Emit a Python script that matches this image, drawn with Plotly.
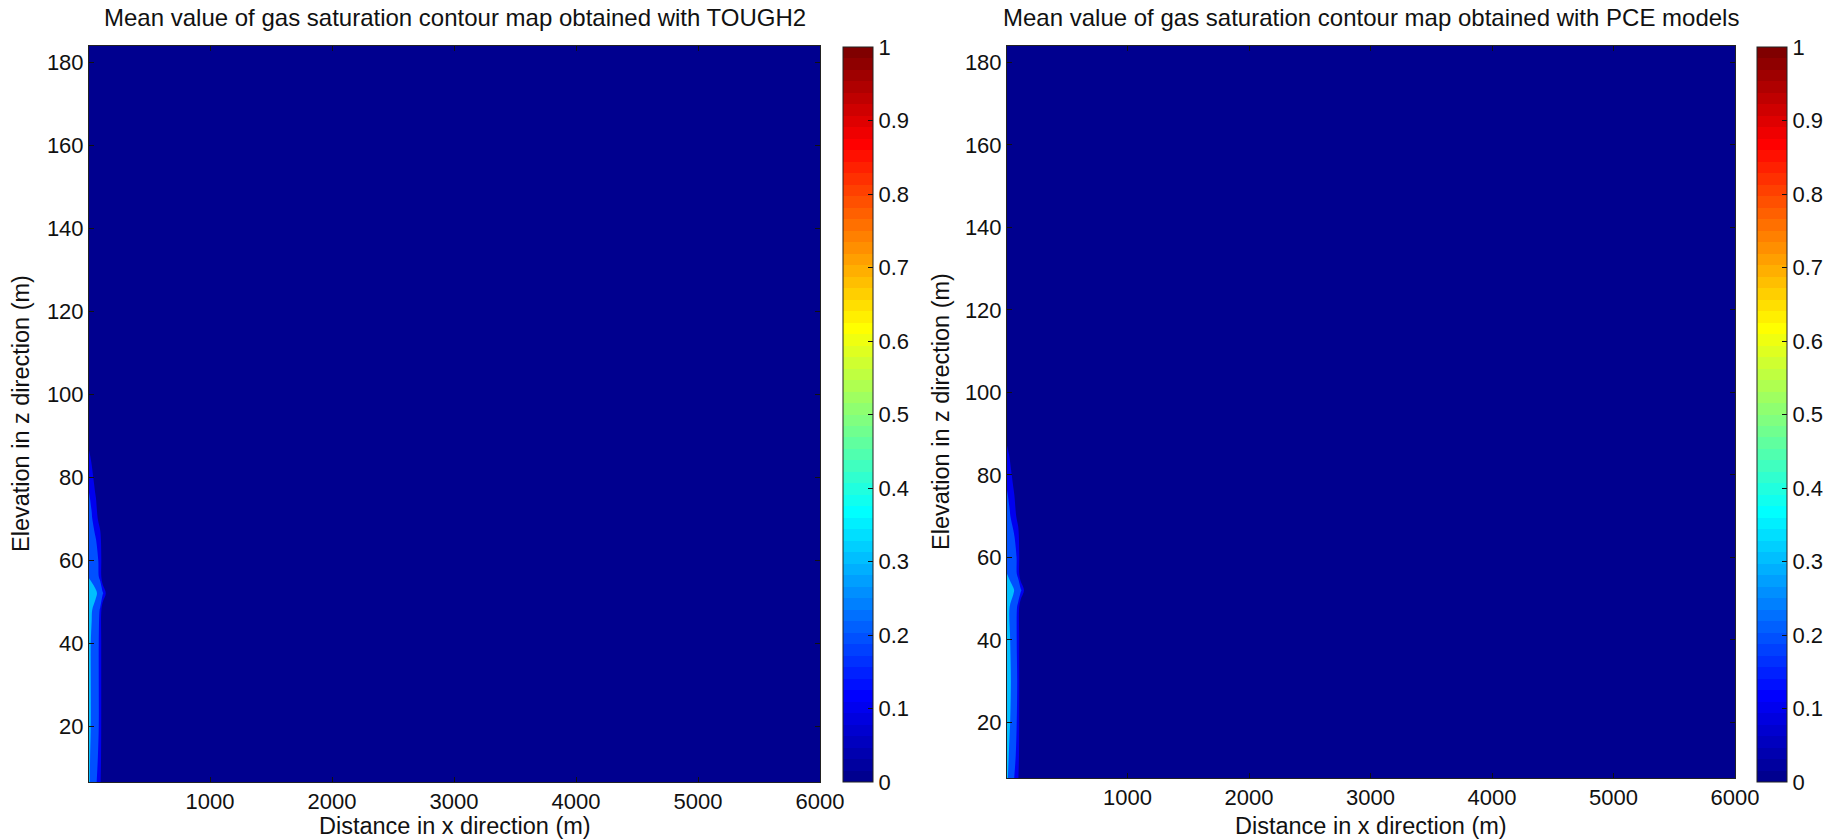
import plotly.graph_objects as go

# ---------------- data ----------------
x_dist = [8, 30, 60, 100, 120, 150, 250, 500, 1000, 2000, 3000, 4000, 5000, 6000]
y_elev = [6.5, 12, 20, 30, 40, 48, 52, 56, 60, 65, 70, 75, 80, 85, 90, 100, 120, 140, 160, 184]

# TOUGH2 mean gas saturation, columns near the injection well (one value per y_elev)
sg_tough_x8 = [0.31, 0.31, 0.32, 0.32, 0.32, 0.34, 0.40, 0.29, 0.27, 0.25, 0.22, 0.21, 0.17, 0.12, 0.05, 0.01, 0, 0, 0, 0]
sg_tough_x30 = [0.28, 0.285, 0.29, 0.29, 0.29, 0.305, 0.36, 0.27, 0.25, 0.23, 0.21, 0.18, 0.13, 0.08, 0.02, 0, 0, 0, 0, 0]
sg_tough_x60 = [0.23, 0.25, 0.27, 0.27, 0.27, 0.27, 0.32, 0.25, 0.23, 0.21, 0.15, 0.11, 0.06, 0.02, 0, 0, 0, 0, 0, 0]
sg_tough_x100 = [0.12, 0.15, 0.17, 0.17, 0.17, 0.19, 0.26, 0.18, 0.18, 0.14, 0.05, 0.03, 0, 0, 0, 0, 0, 0, 0, 0]
sg_tough_x120 = [0, 0, 0, 0, 0, 0, 0.22, 0, 0, 0, 0, 0, 0, 0, 0, 0, 0, 0, 0, 0]
sg_tough_x150 = [0, 0, 0, 0, 0, 0, 0.08, 0, 0, 0, 0, 0, 0, 0, 0, 0, 0, 0, 0, 0]

# PCE model mean gas saturation
sg_pce_x8 = [0.31, 0.32, 0.33, 0.33, 0.33, 0.34, 0.40, 0.30, 0.27, 0.25, 0.23, 0.21, 0.17, 0.13, 0.06, 0.01, 0, 0, 0, 0]
sg_pce_x30 = [0.28, 0.29, 0.305, 0.31, 0.305, 0.30, 0.35, 0.27, 0.25, 0.23, 0.21, 0.18, 0.14, 0.09, 0.03, 0, 0, 0, 0, 0]
sg_pce_x60 = [0.22, 0.25, 0.27, 0.28, 0.27, 0.27, 0.31, 0.25, 0.24, 0.22, 0.16, 0.12, 0.07, 0.02, 0, 0, 0, 0, 0, 0]
sg_pce_x100 = [0.11, 0.15, 0.17, 0.18, 0.17, 0.18, 0.25, 0.18, 0.18, 0.14, 0.06, 0.03, 0, 0, 0, 0, 0, 0, 0, 0]
sg_pce_x120 = [0, 0, 0, 0, 0, 0, 0.23, 0, 0, 0, 0, 0, 0, 0, 0, 0, 0, 0, 0, 0]
sg_pce_x150 = [0, 0, 0, 0, 0, 0, 0.09, 0, 0, 0, 0, 0, 0, 0, 0, 0, 0, 0, 0, 0]

# far field (x >= 250 m) is uniformly zero in both maps
sg_far_field = [0, 0, 0, 0, 0, 0, 0, 0, 0, 0, 0, 0, 0, 0, 0, 0, 0, 0, 0, 0]

contour_levels = [0.1, 0.2, 0.3, 0.4, 0.5, 0.6, 0.7, 0.8, 0.9]
x_ticks = [1000, 2000, 3000, 4000, 5000, 6000]
y_ticks = [20, 40, 60, 80, 100, 120, 140, 160, 180]
cb_ticks = [0, 0.1, 0.2, 0.3, 0.4, 0.5, 0.6, 0.7, 0.8, 0.9, 1]
cb_ticktext = ["0", "0.1", "0.2", "0.3", "0.4", "0.5", "0.6", "0.7", "0.8", "0.9", "1"]

titles = ["Mean value of gas saturation contour map obtained with TOUGH2",
          "Mean value of gas saturation contour map obtained with PCE models"]
x_label = "Distance in x direction (m)"
y_label = "Elevation in z direction (m)"


# ---------------- styling helpers ----------------
def jet(m=64):
    n = -(-m // 4)
    u = [i / n for i in range(1, n + 1)] + [1.0] * (n - 1) + [i / n for i in range(n, 0, -1)]
    g = [n // 2 + (n % 2) - (1 if m % 4 == 1 else 0) + k for k in range(1, len(u) + 1)]
    r = [gi + n for gi in g if gi + n <= m]
    b = [gi - n for gi in g if gi - n >= 1]
    g = [gi for gi in g if gi <= m]
    J = [[0.0, 0.0, 0.0] for _ in range(m)]
    for i, idx in enumerate(r):
        J[idx - 1][0] = u[i]
    for i, idx in enumerate(g):
        J[idx - 1][1] = u[i]
    for i, idx in enumerate(b):
        J[idx - 1][2] = u[len(u) - len(b) + i]
    return ["rgb(%d,%d,%d)" % tuple(round(c * 255) for c in row) for row in J]


JET = jet(64)


def jet_at(v):
    return JET[min(63, int(v * 64 + 1e-9))]


# contour band colours: band starting at level L gets jet(L) (MATLAB contourf behaviour)
band_starts = [0.0] + contour_levels
band_scale = [[k / (len(band_starts) - 1), jet_at(v)] for k, v in enumerate(band_starts)]

# stepped 64-colour scale for the colorbar
cb_scale = []
for i, c in enumerate(JET):
    cb_scale.append([i / 64, c])
    cb_scale.append([(i + 1) / 64, c])


def build_z(cols):
    allcols = cols + [sg_far_field] * (len(x_dist) - len(cols))
    return [[col[j] for col in allcols] for j in range(len(y_elev))]


z_tough = build_z([sg_tough_x8, sg_tough_x30, sg_tough_x60, sg_tough_x100, sg_tough_x120, sg_tough_x150])
z_pce = build_z([sg_pce_x8, sg_pce_x30, sg_pce_x60, sg_pce_x100, sg_pce_x120, sg_pce_x150])

W, H = 1844, 839
FONT = "Liberation Sans, Arial, sans-serif"


def px(xp):
    return xp / W


def py(yp):
    return 1 - yp / H


panels = [
    dict(z=z_tough, ax=(89, 820), ay=(46, 782), cb=(843, 47, 782), ylab_x=21),
    dict(z=z_pce, ax=(1007, 1735), ay=(46, 778), cb=(1757, 47, 782), ylab_x=941),
]

fig = go.Figure()
shapes = []
annotations = []

for i, p in enumerate(panels):
    sfx = "" if i == 0 else str(i + 1)
    fig.add_trace(go.Contour(
        x=x_dist, y=y_elev, z=p["z"],
        autocontour=False,
        contours=dict(start=contour_levels[0], end=contour_levels[-1], size=0.1,
                      coloring="fill", showlines=False),
        line=dict(width=0),
        colorscale=band_scale, showscale=False,
        xaxis="x" + sfx, yaxis="y" + sfx, hoverinfo="skip",
    ))
    cbx, cbtop, cbbot = p["cb"]
    fig.add_trace(go.Scatter(
        x=[3000], y=[100], mode="markers",
        marker=dict(size=1, opacity=0, color=[0.5], cmin=0, cmax=1, colorscale=cb_scale,
                    showscale=True,
                    colorbar=dict(x=px(cbx), xanchor="left", xpad=0, ypad=0,
                                  y=py(cbbot), yanchor="bottom",
                                  len=(cbbot - cbtop) / H, lenmode="fraction",
                                  thickness=30, thicknessmode="pixels",
                                  outlinewidth=1, outlinecolor="#222",
                                  tickmode="array", tickvals=cb_ticks, ticktext=cb_ticktext,
                                  ticks="inside", ticklen=5, tickcolor="#111",
                                  tickfont=dict(family=FONT, size=22, color="#111"))),
        xaxis="x" + sfx, yaxis="y" + sfx, showlegend=False, hoverinfo="skip",
    ))
    # left-side colorbar ticks (MATLAB draws them on both edges)
    for v in cb_ticks[1:-1]:
        yy = py(cbbot - v * (cbbot - cbtop))
        shapes.append(dict(type="line", xref="paper", yref="paper",
                           x0=px(cbx), x1=px(cbx + 5), y0=yy, y1=yy,
                           line=dict(color="#111", width=1)))

    ax_common = dict(showgrid=False, zeroline=False, showline=True, linecolor="#222", linewidth=1,
                     mirror="ticks", ticks="inside", ticklen=5, tickcolor="#111",
                     automargin=False,
                     tickfont=dict(family=FONT, size=22, color="#111"))
    fig.layout["xaxis" + sfx] = dict(domain=[px(p["ax"][0]), px(p["ax"][1])],
                                     range=[x_dist[0], x_dist[-1]], anchor="y" + sfx,
                                     tickmode="array", tickvals=x_ticks, **ax_common)
    fig.layout["yaxis" + sfx] = dict(domain=[py(p["ay"][1]), py(p["ay"][0])],
                                     range=[y_elev[0], y_elev[-1]], anchor="x" + sfx,
                                     tickmode="array", tickvals=y_ticks, **ax_common)

    cx = (p["ax"][0] + p["ax"][1]) / 2
    annotations.append(dict(text=titles[i], x=px(cx), y=py(18), xref="paper", yref="paper",
                            xanchor="center", yanchor="middle", showarrow=False,
                            font=dict(family=FONT, size=24, color="#111")))
    annotations.append(dict(text=x_label, x=px(cx), y=py(826), xref="paper", yref="paper",
                            xanchor="center", yanchor="middle", showarrow=False,
                            font=dict(family=FONT, size=23.5, color="#111")))
    annotations.append(dict(text=y_label, x=px(p["ylab_x"]), y=py((p["ay"][0] + p["ay"][1]) / 2),
                            xref="paper", yref="paper", textangle=-90,
                            xanchor="center", yanchor="middle", showarrow=False,
                            font=dict(family=FONT, size=23.5, color="#111")))

fig.update_layout(width=W, height=H, autosize=False,
                  margin=dict(l=0, r=0, t=0, b=0, pad=0, autoexpand=False),
                  paper_bgcolor="white", plot_bgcolor="white",
                  shapes=shapes, annotations=annotations, showlegend=False)

fig.write_html("out.html", config={"displayModeBar": False},
               post_script="document.body.style.margin='0';document.body.style.overflow='hidden';")
